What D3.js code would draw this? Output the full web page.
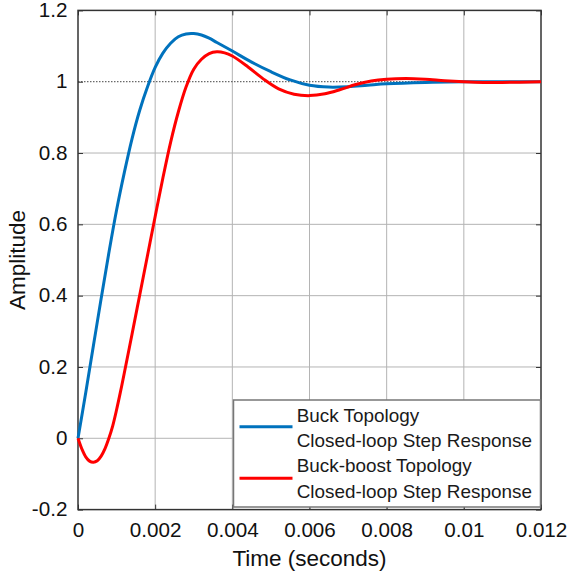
<!DOCTYPE html>
<html>
<head>
<meta charset="utf-8">
<script src="https://cdn.jsdelivr.net/npm/d3@7"></script>
<style>
  body { margin: 0; background: #fff; }
  svg { display: block; font-family: Arial, "Liberation Sans", sans-serif; }
</style>
</head>
<body>
<div id="chart"></div>
<script>
// Closed-loop step responses: Buck vs Buck-boost

// Data
const buckTime = [0, 0.0002, 0.0004, 0.0006, 0.0008, 0.001, 0.0012, 0.0014, 0.0016, 0.0018,
    0.002, 0.0022, 0.0024, 0.0026, 0.0028, 0.003, 0.0032, 0.0034, 0.0036, 0.004,
    0.0045, 0.005, 0.0055, 0.006, 0.0065, 0.007, 0.0075, 0.008, 0.009, 0.01, 0.011, 0.012];
const buckAmp = [0, 0.128, 0.26, 0.392, 0.52, 0.64, 0.745, 0.84, 0.92, 0.985,
    1.04, 1.08, 1.108, 1.126, 1.134, 1.135, 1.131, 1.122, 1.11, 1.086,
    1.055, 1.028, 1.005, 0.99, 0.985, 0.986, 0.99, 0.994, 0.998, 1.0, 1.0, 1.0];

const boostTime = [0, 0.0001, 0.0002, 0.0003, 0.0004, 0.0005, 0.0006, 0.0007, 0.0008, 0.0009,
    0.001, 0.0011, 0.0012, 0.0014, 0.0016, 0.0018, 0.002, 0.0022, 0.0024, 0.0026, 0.0028,
    0.003, 0.0032, 0.0034, 0.0036, 0.0038, 0.004, 0.0044, 0.0048, 0.0052, 0.0056,
    0.006, 0.0064, 0.0068, 0.0072, 0.0076, 0.008, 0.0085, 0.009, 0.0095, 0.01,
    0.0105, 0.011, 0.012];
const boostAmp = [0, -0.03, -0.052, -0.064, -0.067, -0.063, -0.05, -0.029, 0.0, 0.035,
    0.08, 0.13, 0.183, 0.292, 0.402, 0.512, 0.622, 0.73, 0.83, 0.915, 0.985,
    1.035, 1.063, 1.079, 1.084, 1.081, 1.072, 1.042, 1.008, 0.98, 0.965,
    0.961, 0.966, 0.978, 0.992, 1.002, 1.007, 1.009, 1.007, 1.003, 1.0,
    0.998, 0.998, 1.0];

const xTicks = [0, 0.002, 0.004, 0.006, 0.008, 0.01, 0.012];
const xTickLabels = ['0', '0.002', '0.004', '0.006', '0.008', '0.01', '0.012'];
const yTicks = [-0.2, 0, 0.2, 0.4, 0.6, 0.8, 1, 1.2];
const yTickLabels = ['-0.2', '0', '0.2', '0.4', '0.6', '0.8', '1', '1.2'];

const legendLabels = [
    ['Buck Topology', 'Closed-loop Step Response'],
    ['Buck-boost Topology', 'Closed-loop Step Response']
];
const colors = ['#0072BD', '#FF0000'];

// Dimensions
const W = 567, H = 573;
const plot = { left: 78, right: 541, top: 10.4, bottom: 509.6 };

const svg = d3.select('#chart')
    .append('svg')
    .attr('width', W)
    .attr('height', H);

const x = d3.scaleLinear().domain([0, 0.012]).range([plot.left, plot.right]);
const y = d3.scaleLinear().domain([-0.2, 1.2]).range([plot.bottom, plot.top]);

// Grid
const grid = svg.append('g').attr('stroke', '#b4b4b4').attr('stroke-width', 1);
grid.selectAll('.vg')
    .data(xTicks.slice(1, -1))
    .enter().append('line')
    .attr('x1', d => x(d)).attr('x2', d => x(d))
    .attr('y1', plot.top).attr('y2', plot.bottom);
grid.selectAll('.hg')
    .data(yTicks.slice(1, -1).filter(d => d !== 1))
    .enter().append('line')
    .attr('x1', plot.left).attr('x2', plot.right)
    .attr('y1', d => y(d)).attr('y2', d => y(d));

// dotted reference at 1
svg.append('line')
    .attr('x1', plot.left).attr('x2', plot.right)
    .attr('y1', y(1)).attr('y2', y(1))
    .attr('stroke', '#444')
    .attr('stroke-width', 1)
    .attr('stroke-dasharray', '1.5,1.5');

// Axes
const xAxis = d3.axisBottom(x).tickValues(xTicks)
    .tickFormat((d, i) => xTickLabels[i])
    .tickSizeInner(-5).tickSizeOuter(0).tickPadding(14);
const yAxis = d3.axisLeft(y).tickValues(yTicks)
    .tickFormat((d, i) => yTickLabels[i])
    .tickSizeInner(-5).tickSizeOuter(0).tickPadding(14);

const gx = svg.append('g')
    .attr('transform', `translate(0, ${plot.bottom})`)
    .call(xAxis);
const gy = svg.append('g')
    .attr('transform', `translate(${plot.left}, 0)`)
    .call(yAxis);

// mirrored ticks on top and right
svg.append('g')
    .attr('transform', `translate(0, ${plot.top})`)
    .call(d3.axisTop(x).tickValues(xTicks).tickSizeInner(-5).tickSizeOuter(0).tickFormat(''));
svg.append('g')
    .attr('transform', `translate(${plot.right}, 0)`)
    .call(d3.axisRight(y).tickValues(yTicks).tickSizeInner(-5).tickSizeOuter(0).tickFormat(''));

svg.selectAll('.domain').attr('stroke', 'none');
svg.selectAll('.tick line').attr('stroke', '#333').attr('stroke-width', 1);

gx.selectAll('.tick text')
    .attr('font-size', 19.5)
    .attr('fill', '#111')
    .attr('font-family', 'Arial, "Liberation Sans", sans-serif')
    .attr('transform', 'scale(1.06,1)');
gy.selectAll('.tick text')
    .attr('font-size', 19.5)
    .attr('fill', '#111')
    .attr('font-family', 'Arial, "Liberation Sans", sans-serif')
    .attr('x', -10)
    .attr('transform', 'scale(1.06,1)');

// Box
svg.append('rect')
    .attr('x', plot.left).attr('y', plot.top)
    .attr('width', plot.right - plot.left)
    .attr('height', plot.bottom - plot.top)
    .attr('fill', 'none')
    .attr('stroke', '#333')
    .attr('stroke-width', 1.5);

// Curves
const line = d3.line()
    .x(d => x(d[0]))
    .y(d => y(d[1]))
    .curve(d3.curveCatmullRom.alpha(0.5));

const series = [
    buckTime.map((t, i) => [t, buckAmp[i]]),
    boostTime.map((t, i) => [t, boostAmp[i]])
];

svg.selectAll('.curve')
    .data(series)
    .enter().append('path')
    .attr('class', 'curve')
    .attr('d', line)
    .attr('fill', 'none')
    .attr('stroke', (d, i) => colors[i])
    .attr('stroke-width', 3)
    .attr('stroke-linejoin', 'round');

// Axis labels
svg.append('text')
    .attr('x', (plot.left + plot.right) / 2)
    .attr('y', 566)
    .attr('text-anchor', 'middle')
    .attr('font-size', 22.5)
    .attr('fill', '#111')
    .text('Time (seconds)');

svg.append('text')
    .attr('transform', `translate(25, ${(plot.top + plot.bottom) / 2}) rotate(-90)`)
    .attr('text-anchor', 'middle')
    .attr('font-size', 22.5)
    .attr('fill', '#111')
    .text('Amplitude');

// Legend
const legend = svg.append('g');
legend.append('rect')
    .attr('x', 233.5).attr('y', 400)
    .attr('width', 307).attr('height', 107)
    .attr('fill', '#fff')
    .attr('stroke', '#777')
    .attr('stroke-width', 1.5);

const legendRows = [{ lineY: 426.7, base: 421.7 }, { lineY: 478.3, base: 472.3 }];
legendRows.forEach((r, i) => {
    legend.append('line')
        .attr('x1', 239.5).attr('x2', 292.5)
        .attr('y1', r.lineY).attr('y2', r.lineY)
        .attr('stroke', colors[i])
        .attr('stroke-width', 3);
    legendLabels[i].forEach((txt, j) => {
        legend.append('text')
            .attr('transform', `translate(296.7, ${r.base + j * 25.3}) scale(1.08,1)`)
            .attr('font-size', 17.5)
            .attr('fill', '#1a1a1a')
            .text(txt);
    });
});
</script>
</body>
</html>
